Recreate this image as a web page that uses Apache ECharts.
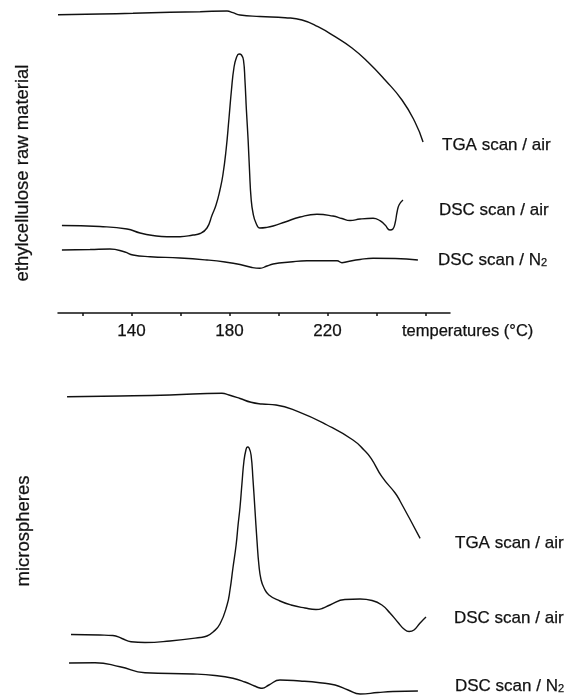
<!DOCTYPE html>
<html>
<head>
<meta charset="utf-8">
<script src="https://cdn.jsdelivr.net/npm/echarts@6/dist/echarts.min.js"></script>
<style>
html,body{margin:0;padding:0;background:#fff;}
#chart{width:570px;height:699px;}
</style>
</head>
<body>
<div id="chart"></div>
<script>
// ---- Data (temperature in °C, signal in arbitrary units) ----
// Panel 1: ethylcellulose raw material
const rawTgaT = [110.0,127.1,140.6,155.7,168.0,179.0,181.4,184.3,192.4,202.7,209.6,216.1,223.1,230.0,236.5,243.5,250.4,255.7,259.0];
const rawTgaV = [298.3,299,299.7,300.7,301.3,302,300.3,298,296.5,295.3,293,286.3,276.3,265,251,233,213,191,171];

const rawDscAirT = [111.6,127.1,138.2,143.5,148.8,154.5,159.8,165.1,168.0,170.8,172.9,174.5,176.1,177.3,178.6,179.8,180.8,181.8,182.9,183.9,184.9,185.7,186.3,186.9,187.6,188.2,188.8,189.6,190.8,192.4,194.9,197.8,202.7,208.8,215.7,222.2,225.9,229.2,233.3,238.6,241.4,243.5,245.5,246.7,247.6,248.4,249.2,250.8];
const rawDscAirV = [87.5,86.5,84,80,77.5,76.3,76.3,78,79.5,85,98,108,123,138,163,195,223,245,256,259,258,253,233,203,173,141,115,100,90,85,85.5,87,91,96,98.7,97,94.5,92.5,94,94.7,92.3,88,83,84,90,101,108,113];

const rawDscN2T = [111.6,123.1,131.2,137.3,140.6,147.6,159.8,170.8,178.2,184.3,189.2,192.4,195.3,197.8,204.7,211.6,223.9,225.9,228.0,233.3,238.6,247.6,256.9];
const rawDscN2V = [63,63.5,64,61,58,56.3,55,53,51,48.5,45.5,44.7,47,49,51,52.3,52.3,50.3,51.3,53.5,54.7,54.5,53];

// Panel 2: microspheres
const micTgaT = [113.7,135.3,155.7,176.9,179.8,184.3,188.8,193.3,199.0,208.0,219.8,230.4,234.9,237.8,242.2,247.6,249.6,257.8];
const micTgaV = [302.3,303,304,305.7,304,300.5,296.7,295,294,287.3,274,259,249,240.7,222.3,206,198,160.7];

const micDscAirT = [115.3,127.1,132.4,136.1,139.8,145.5,155.7,168.0,170.8,173.3,176.1,179.0,180.2,181.4,182.7,183.5,184.3,185.1,185.9,186.7,187.3,188.0,188.8,189.6,190.4,191.2,192.0,192.9,194.1,196.1,200.6,205.1,210.8,215.3,217.8,221.0,227.1,233.3,238.2,242.2,245.5,248.8,251.2,253.3,255.3,257.8,260.2];
const micDscAirV = [64.5,64,63.5,60.5,57.3,56.5,58,61.5,63,67,75,94,109,131,154,174,192,216,238,249,252,251,244,219,189,159,134,119,111,104,98,94,91,89.5,90.5,94,99.5,100,98.5,94,86,76.5,70,67.5,69,76,82];

const micDscN2T = [114.5,125.1,135.3,145.5,165.1,174.1,181.4,186.3,190.2,192.4,193.3,196.1,200.6,208.8,216.9,223.1,228.4,233.3,240.6,246.7,256.9];
const micDscN2V = [36,36.3,32.3,26.3,25,23.5,20.7,17,13,11,10.7,14,19,18,16.3,14,9,5,6.5,7.5,8];

// ---- Text ----
const tickValues = [120,140,160,180,200,220,240,260];
const tickLabels = [140,180,220];
const xAxisTitle = 'temperatures (°C)';
const panelTitles = ['ethylcellulose raw material','microspheres'];
const curveLabels = ['TGA scan / air','DSC scan / air','DSC scan / N{sub|2}'];

function pairs(t, v){ return t.map((x,i)=>[x, v[i]]); }

const FONT = '"Liberation Sans", Arial, Helvetica, sans-serif';
const INK = '#111';

function lineSeries(name, t, v, idx){
  return {
    name: name, type: 'line', xAxisIndex: idx, yAxisIndex: idx,
    data: pairs(t, v), showSymbol: false, symbol: 'none',
    smooth: 0.5, clip: false,
    lineStyle: {color: INK, width: 1.4}, silent: true
  };
}

function label(text, x, y){
  return {
    type: 'text', x: x, y: y, silent: true,
    style: {
      text: text, fill: INK, font: '17px ' + FONT,
      align: 'left', verticalAlign: 'middle',
      stroke: INK, lineWidth: 0.25,
      rich: { sub: { fontSize: 11, fontFamily: FONT, fill: INK, verticalAlign: 'bottom' } }
    }
  };
}

function vTitle(text, x, y){
  return {
    type: 'text', x: x, y: y, rotation: Math.PI/2, silent: true,
    style: { text: text, fill: INK, font: '18.5px ' + FONT, align: 'center', verticalAlign: 'middle', stroke: INK, lineWidth: 0.25 }
  };
}

const chart = echarts.init(document.getElementById('chart'), null, {renderer: 'canvas'});
chart.setOption({
  animation: false,
  backgroundColor: '#fff',
  grid: [
    {left: 58, right: 120, top: 0, height: 313, outerBoundsMode: 'none', containLabel: false},
    {left: 58, right: 120, top: 350, height: 349, outerBoundsMode: 'none', containLabel: false}
  ],
  xAxis: [
    {
      type: 'value', gridIndex: 0, min: 110, max: 270,
      axisLine: {show: true, lineStyle: {color: INK, width: 1.5}},
      axisTick: {show: true, length: 3, inside: false, customValues: tickValues, lineStyle: {color: INK, width: 1.5}},
      axisLabel: {show: true, customValues: tickLabels, margin: 10, color: INK, fontSize: 17, fontFamily: FONT, textBorderColor: INK, textBorderWidth: 0.25},
      splitLine: {show: false}
    },
    {type: 'value', gridIndex: 1, min: 110, max: 270, show: false}
  ],
  yAxis: [
    {type: 'value', gridIndex: 0, min: 0, max: 313, show: false},
    {type: 'value', gridIndex: 1, min: 0, max: 349, show: false}
  ],
  series: [
    lineSeries('raw TGA air', rawTgaT, rawTgaV, 0),
    lineSeries('raw DSC air', rawDscAirT, rawDscAirV, 0),
    lineSeries('raw DSC N2', rawDscN2T, rawDscN2V, 0),
    lineSeries('micro TGA air', micTgaT, micTgaV, 1),
    lineSeries('micro DSC air', micDscAirT, micDscAirV, 1),
    lineSeries('micro DSC N2', micDscN2T, micDscN2V, 1)
  ],
  graphic: [
    vTitle(panelTitles[0], 23, 173),
    vTitle(panelTitles[1], 24, 531),
    label(curveLabels[0], 442, 145),
    label(curveLabels[1], 439, 210),
    label(curveLabels[2], 438, 260),
    {type: 'text', x: 402, y: 331, silent: true,
     style: {text: xAxisTitle, fill: INK, font: '16.5px ' + FONT, align: 'left', verticalAlign: 'middle', stroke: INK, lineWidth: 0.25}},
    label(curveLabels[0], 455, 543),
    label(curveLabels[1], 454, 618),
    label(curveLabels[2], 455, 686)
  ]
});
</script>
</body>
</html>
